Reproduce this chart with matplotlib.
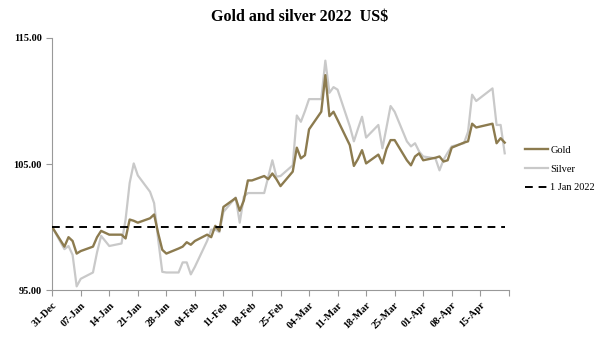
import numpy as np
import pandas as pd
import matplotlib

matplotlib.use("Agg")
import matplotlib.pyplot as plt
import matplotlib.dates as mdates

# trading days (Good Friday 15-Apr missing)
dates = [
    "2021-12-31",
    "2022-01-03", "2022-01-04", "2022-01-05", "2022-01-06", "2022-01-07",
    "2022-01-10", "2022-01-11", "2022-01-12", "2022-01-13", "2022-01-14",
    "2022-01-17", "2022-01-18", "2022-01-19", "2022-01-20", "2022-01-21",
    "2022-01-24", "2022-01-25", "2022-01-26", "2022-01-27", "2022-01-28",
    "2022-01-31", "2022-02-01", "2022-02-02", "2022-02-03", "2022-02-04",
    "2022-02-07", "2022-02-08", "2022-02-09", "2022-02-10", "2022-02-11",
    "2022-02-14", "2022-02-15", "2022-02-16", "2022-02-17", "2022-02-18",
    "2022-02-21", "2022-02-22", "2022-02-23", "2022-02-24", "2022-02-25",
    "2022-02-28", "2022-03-01", "2022-03-02", "2022-03-03", "2022-03-04",
    "2022-03-07", "2022-03-08", "2022-03-09", "2022-03-10", "2022-03-11",
    "2022-03-14", "2022-03-15", "2022-03-16", "2022-03-17", "2022-03-18",
    "2022-03-21", "2022-03-22", "2022-03-23", "2022-03-24", "2022-03-25",
    "2022-03-28", "2022-03-29", "2022-03-30", "2022-03-31", "2022-04-01",
    "2022-04-04", "2022-04-05", "2022-04-06", "2022-04-07", "2022-04-08",
    "2022-04-11", "2022-04-12", "2022-04-13", "2022-04-14",
    "2022-04-18", "2022-04-19", "2022-04-20", "2022-04-21",
]

gold = [
    100.0,
    98.45, 99.2, 98.9, 97.9, 98.1,
    98.45, 99.2, 99.7, 99.55, 99.4,
    99.4, 99.1, 100.6, 100.5, 100.35,
    100.7, 101.0, 99.5, 98.2, 97.9,
    98.3, 98.45, 98.8, 98.6, 98.9,
    99.4, 99.2, 100.1, 99.7, 101.6,
    102.3, 101.3, 102.1, 103.7, 103.7,
    104.05, 103.8, 104.25, 103.8, 103.25,
    104.4, 106.3, 105.45, 105.7, 107.75,
    109.15, 112.05, 108.8, 109.15, 108.5,
    106.5, 104.85, 105.4, 106.1, 105.05,
    105.75, 105.05, 106.2, 106.9, 106.9,
    105.3, 104.9, 105.6, 105.85, 105.3,
    105.5, 105.6, 105.2, 105.3, 106.3,
    106.7, 106.8, 108.2, 107.9,
    108.2, 106.65, 107.05, 106.7,
]

silver = [
    100.0,
    98.25, 98.5, 97.8, 95.3, 95.9,
    96.4, 98.0, 99.3, 98.9, 98.5,
    98.7, 100.6, 103.5, 105.05, 104.1,
    102.8, 101.9, 99.0, 96.45, 96.4,
    96.4, 97.2, 97.2, 96.25, 96.85,
    98.9, 99.8, 99.8, 99.6, 101.2,
    102.35, 100.35, 102.4, 102.7, 102.7,
    102.7, 104.0, 105.3, 104.0, 104.05,
    104.9, 108.85, 108.35, 109.2, 110.15,
    110.15, 113.2, 110.65, 111.1, 110.9,
    108.0, 106.8, 107.8, 108.75, 107.1,
    108.1, 106.25, 107.9, 109.6, 109.15,
    106.8, 106.4, 106.65, 106.0, 105.6,
    105.45, 104.5, 105.35, 105.9, 106.4,
    106.65, 107.55, 110.5, 110.0,
    111.0, 108.1, 108.1, 105.85,
]

base = [100.0] * len(dates)

tick_dates = pd.date_range("2021-12-31", "2022-04-22", freq="7D")
tick_labels = [d.strftime("%d-%b") for d in tick_dates[:-1]] + [""]

x = pd.to_datetime(dates)
serif = ["Liberation Serif", "DejaVu Serif"]

fig = plt.figure(figsize=(6, 3.45), dpi=100)
ax = fig.add_axes([0.087, 0.159, 0.761, 0.731])

ax.plot(x, gold, color="#8c7b4f", lw=1.7, label="Gold", zorder=3)
ax.plot(x, silver, color="#c9c9c9", lw=1.6, label="Silver", zorder=2)
ax.plot(x, base, color="black", lw=1.4, ls=(0, (4, 3)), label="1 Jan 2022", zorder=4)

ax.set_ylim(95, 115)
ax.set_yticks([95, 105, 115])
ax.set_yticklabels(["95.00", "105.00", "115.00"], fontfamily=serif,
                   fontweight="bold", fontsize=7.5)
ax.set_xlim(tick_dates[0], tick_dates[-1])
ax.set_xticks(tick_dates)
ax.set_xticklabels(tick_labels, rotation=45, ha="right", rotation_mode="anchor",
                   fontfamily=serif, fontweight="bold", fontsize=7.5)

for s in ["top", "right"]:
    ax.spines[s].set_visible(False)
for s in ["left", "bottom"]:
    ax.spines[s].set_color("#999999")
    ax.spines[s].set_linewidth(0.8)
ax.tick_params(axis="both", color="#999999", length=4, width=0.8)

fig.suptitle("Gold and silver 2022  US$", x=0.5, y=0.975, fontfamily=serif,
             fontweight="bold", fontsize=11.5)

fig.legend(loc="center left", bbox_to_anchor=(0.86, 0.51), frameon=False,
           prop={"family": serif, "size": 7.5}, handlelength=2.2,
           handletextpad=0.2, labelspacing=0.9)

fig.savefig("out.png", dpi=100)
